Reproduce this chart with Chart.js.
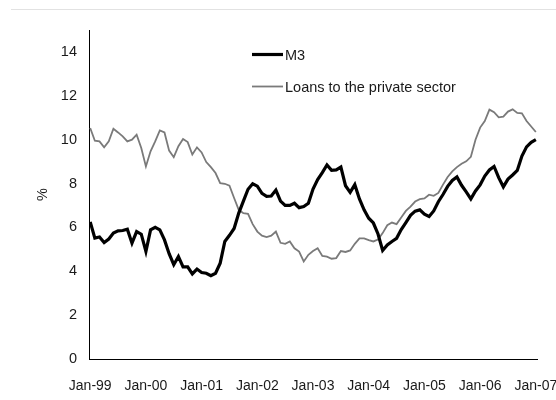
<!DOCTYPE html>
<html>
<head>
<meta charset="utf-8">
<script src="https://cdn.jsdelivr.net/npm/chart.js@4.4.1/dist/chart.umd.min.js"></script>
<style>
  html, body { margin: 0; padding: 0; background: #fff; }
  #wrap { position: relative; width: 556px; height: 400px; }
  #rule { position: absolute; left: 11px; right: 0; top: 9px; border-top: 1px solid #e2e2e2; }
</style>
</head>
<body>
<div id="wrap">
  <div id="rule"></div>
  <canvas id="chart" width="556" height="400"></canvas>
</div>
<script>
// monthly growth rates, Jan-99 .. Jan-07 (%, y/y)
const m3 = [
  6.25, 5.51, 5.56, 5.31, 5.47, 5.74, 5.84, 5.86, 5.92, 5.28,
  5.81, 5.69, 4.9, 5.89, 6.0, 5.89, 5.43, 4.8, 4.3, 4.67,
  4.2, 4.2, 3.88, 4.1, 3.94, 3.91, 3.8, 3.91, 4.37, 5.36,
  5.64, 5.95, 6.65, 7.2, 7.74, 7.99, 7.88, 7.55, 7.42, 7.43,
  7.7, 7.2, 7.0, 7.0, 7.1, 6.9, 6.95, 7.1, 7.75, 8.18,
  8.5, 8.85, 8.6, 8.62, 8.75, 7.9, 7.6, 7.95, 7.3, 6.8,
  6.42, 6.2, 5.7, 4.95, 5.2, 5.36, 5.5, 5.9, 6.22, 6.55,
  6.74, 6.8, 6.6, 6.5, 6.75, 7.17, 7.5, 7.87, 8.14, 8.3,
  7.92, 7.62, 7.3, 7.66, 7.94, 8.34, 8.62, 8.78, 8.27, 7.85,
  8.2, 8.39, 8.6, 9.25, 9.67, 9.88, 10.0
];

const loans = [
  10.53, 9.95, 9.92, 9.65, 9.92, 10.5, 10.33, 10.15, 9.92, 10.0,
  10.23, 9.62, 8.78, 9.47, 9.92, 10.42, 10.33, 9.5, 9.2, 9.7,
  10.03, 9.89, 9.32, 9.65, 9.42, 8.98, 8.75, 8.48, 8.02, 7.99,
  7.9, 7.34, 6.8, 6.65, 6.62, 6.15, 5.81, 5.62, 5.56, 5.62,
  5.81, 5.3, 5.25, 5.36, 5.05, 4.9, 4.45, 4.75, 4.92, 5.05,
  4.7, 4.67, 4.57, 4.6, 4.92, 4.88, 4.95, 5.25, 5.5, 5.5,
  5.42, 5.36, 5.45, 5.74, 6.1, 6.22, 6.15, 6.45, 6.75, 6.95,
  7.18, 7.29, 7.32, 7.49, 7.44, 7.57, 7.95, 8.3, 8.55, 8.75,
  8.9, 9.01, 9.22, 10.0, 10.55, 10.85, 11.37, 11.25, 11.02, 11.05,
  11.28, 11.38, 11.22, 11.2, 10.85, 10.6, 10.35
];

const xLabels = ["Jan-99", "Jan-00", "Jan-01", "Jan-02", "Jan-03", "Jan-04", "Jan-05", "Jan-06", "Jan-07"];
const yTicks = [0, 2, 4, 6, 8, 10, 12, 14];

const FONT = "'Liberation Sans', Arial, sans-serif";
const TEXT = "#1a1a1a";

// legend drawn inside the plot, line sample + label
const innerLegend = {
  id: "innerLegend",
  afterDraw(chart) {
    const { ctx } = chart;
    ctx.save();
    ctx.font = "14.5px " + FONT;
    ctx.textBaseline = "middle";
    ctx.fillStyle = TEXT;
    chart.data.datasets.forEach((ds, i) => {
      const y = 54.5 + i * 32;
      ctx.beginPath();
      ctx.strokeStyle = ds.borderColor;
      ctx.lineWidth = ds.borderWidth;
      ctx.moveTo(252, y);
      ctx.lineTo(283, y);
      ctx.stroke();
      ctx.fillText(ds.label, 285, y + 1);
    });
    ctx.restore();
  },
};

const toPoints = (arr) => arr.map((v, i) => ({ x: i, y: v }));

new Chart(document.getElementById("chart"), {
  type: "line",
  data: {
    datasets: [
      {
        label: "M3",
        data: toPoints(m3),
        borderColor: "#000000",
        borderWidth: 3.2,
        pointRadius: 0,
        tension: 0,
      },
      {
        label: "Loans to the private sector",
        data: toPoints(loans),
        borderColor: "#7a7a7a",
        borderWidth: 1.8,
        pointRadius: 0,
        tension: 0,
      },
    ],
  },
  options: {
    responsive: false,
    animation: false,
    events: [],
    layout: {
      padding: { top: 30, right: 19, left: 0, bottom: 0 },
    },
    scales: {
      x: {
        type: "linear",
        min: -0.26,
        max: 96.25,
        grid: { display: false, drawTicks: false },
        border: { display: true, color: "#000", width: 1 },
        afterBuildTicks: (scale) => {
          scale.ticks = xLabels.map((_, j) => ({ value: j * 12 }));
        },
        afterFit: (scale) => {
          scale.height = 41;
          scale.paddingLeft = 0;
          scale.paddingRight = 0;
        },
        ticks: {
          autoSkip: false,
          maxRotation: 0,
          padding: 19,
          color: TEXT,
          font: { family: FONT, size: 14 },
          callback: (value) => xLabels[Math.round(value / 12)],
        },
      },
      y: {
        min: 0,
        max: 15,
        grid: { display: false, drawTicks: false },
        border: { display: true, color: "#000", width: 1 },
        afterBuildTicks: (scale) => {
          scale.ticks = yTicks.map((v) => ({ value: v }));
        },
        afterFit: (scale) => {
          scale.width = 89;
        },
        ticks: {
          padding: 12,
          color: TEXT,
          font: { family: FONT, size: 14.5 },
        },
        title: {
          display: true,
          text: "%",
          color: TEXT,
          font: { family: FONT, size: 14.5 },
          padding: { top: 34, bottom: 0 },
        },
      },
    },
    plugins: {
      legend: { display: false },
      tooltip: { enabled: false },
    },
  },
  plugins: [innerLegend],
});
</script>
</body>
</html>
